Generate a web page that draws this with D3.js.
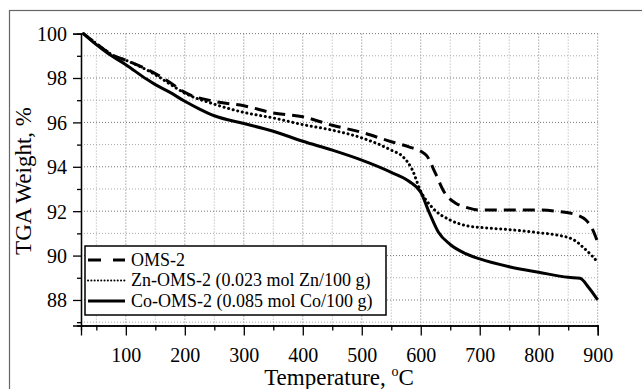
<!DOCTYPE html>
<html>
<head>
<meta charset="utf-8">
<script src="https://cdn.jsdelivr.net/npm/d3@7"></script>
<style>
  body { margin: 0; background: #fff; }
  svg { display: block; }
  text { font-family: "Liberation Serif", "DejaVu Serif", "Times New Roman", Times, serif; fill: #000; }
</style>
</head>
<body>
<div id="chart"></div>
<script>
// TGA curves: [temperature °C, weight %]
const omsTemp = [28, 50, 80, 100, 135, 150, 175, 200, 250, 300, 350, 400, 450, 500, 550, 580, 600, 610, 625, 640, 660, 680, 700, 750, 800, 835, 865, 880, 890, 900];
const omsWeight = [100, 99.55, 99.0, 98.8, 98.4, 98.2, 97.8, 97.35, 96.95, 96.75, 96.42, 96.25, 95.87, 95.55, 95.13, 94.9, 94.7, 94.5, 93.7, 92.85, 92.35, 92.15, 92.05, 92.05, 92.05, 91.98, 91.83, 91.6, 91.25, 90.6];

const znTemp = [28, 50, 80, 100, 135, 150, 175, 200, 250, 300, 350, 400, 450, 500, 550, 570, 585, 600, 620, 650, 680, 700, 750, 800, 830, 860, 877, 890, 900];
const znWeight = [100, 99.55, 99.0, 98.8, 98.37, 98.15, 97.72, 97.32, 96.82, 96.45, 96.2, 95.9, 95.65, 95.3, 94.75, 94.45, 93.9, 92.9, 92.15, 91.6, 91.33, 91.27, 91.17, 91.03, 90.93, 90.7, 90.33, 90.0, 89.7];

const coTemp = [28, 50, 70, 100, 135, 150, 175, 200, 225, 250, 300, 350, 400, 450, 500, 550, 580, 600, 615, 630, 650, 675, 700, 750, 800, 850, 870, 885, 900];
const coWeight = [100, 99.5, 99.1, 98.6, 97.95, 97.7, 97.35, 96.95, 96.6, 96.3, 95.95, 95.6, 95.15, 94.75, 94.3, 93.75, 93.35, 92.85, 91.9, 91.05, 90.5, 90.1, 89.85, 89.5, 89.25, 89.02, 88.98, 88.55, 88.0];

const seriesNames = ["OMS-2", "Zn-OMS-2 (0.023 mol Zn/100 g)", "Co-OMS-2 (0.085 mol Co/100 g)"];
const xTickLabels = [100, 200, 300, 400, 500, 600, 700, 800, 900];
const yTickLabels = [88, 90, 92, 94, 96, 98, 100];

const width = 642, height = 389;
const serif = "'Liberation Serif', 'DejaVu Serif', 'Times New Roman', Times, serif";

const svg = d3.select("#chart").append("svg")
    .attr("width", width)
    .attr("height", height);

// outer frame of the figure
svg.append("rect")
    .attr("x", 9.5).attr("y", 10.5)
    .attr("width", width).attr("height", height)
    .attr("fill", "none")
    .attr("stroke", "#666")
    .attr("stroke-width", 1.2);

const x = d3.scaleLinear().domain([24, 900]).range([81, 597.7]);
const y = d3.scaleLinear().domain([86.85, 100]).range([325.5, 33.6]);

// dotted grid, every 50 °C and every 1 %
const xGrid = d3.range(50, 901, 50);
const yGrid = d3.range(87, 100.5, 1);

svg.append("g").selectAll("line")
    .data(xGrid)
    .enter().append("line")
    .attr("x1", d => x(d)).attr("x2", d => x(d))
    .attr("y1", y(100)).attr("y2", y(86.85))
    .attr("stroke", d => d % 100 === 0 ? "#777" : "#aaa")
    .attr("stroke-width", 1)
    .attr("stroke-dasharray", "1,2");

svg.append("g").selectAll("line")
    .data(yGrid)
    .enter().append("line")
    .attr("x1", x(24)).attr("x2", x(900))
    .attr("y1", d => y(d)).attr("y2", d => y(d))
    .attr("stroke", d => d % 2 === 0 ? "#777" : "#aaa")
    .attr("stroke-width", 1)
    .attr("stroke-dasharray", "1,2");

// axes
const xAxis = svg.append("g")
    .attr("transform", `translate(0, ${y(86.85)})`)
    .call(d3.axisBottom(x).tickValues(xTickLabels).tickSize(10).tickPadding(8).tickFormat(d3.format("d")));
svg.append("g")
    .attr("transform", `translate(0, ${y(86.85)})`)
    .call(d3.axisBottom(x).tickValues(d3.range(50, 901, 100)).tickSize(5).tickFormat(""));

const yAxis = svg.append("g")
    .attr("transform", `translate(${x(24)}, 0)`)
    .call(d3.axisLeft(y).tickValues(yTickLabels).tickSize(8).tickPadding(6).tickFormat(d3.format("d")));
svg.append("g")
    .attr("transform", `translate(${x(24)}, 0)`)
    .call(d3.axisLeft(y).tickValues(d3.range(87, 100, 2)).tickSize(4).tickFormat(""));

svg.selectAll("g").attr("font-family", serif);
svg.selectAll(".domain").attr("stroke", "#000").attr("stroke-width", 1.3);
svg.selectAll(".tick line").attr("stroke", "#000").attr("stroke-width", 1.3);
svg.selectAll(".tick text")
    .style("font-family", serif)
    .style("font-size", "20px");
xAxis.selectAll(".tick text").attr("dy", "0.9em");
yAxis.selectAll(".tick text").attr("dy", "0.35em");

// axis titles
const xTitle = svg.append("text")
    .attr("x", 339)
    .attr("y", 385)
    .attr("text-anchor", "middle")
    .style("font-family", serif)
    .style("font-size", "23px");
xTitle.append("tspan").text("Temperature, ");
xTitle.append("tspan").attr("dy", -9).style("font-size", "14px").text("o");
xTitle.append("tspan").attr("dy", 9).text("C");

svg.append("text")
    .attr("transform", "translate(31, 181) rotate(-90)")
    .attr("text-anchor", "middle")
    .style("font-family", serif)
    .style("font-size", "23px")
    .text("TGA Weight, %");

// curves
const styles = [
    {dash: "12,7", width: 3, cap: "butt"},
    {dash: "0.1,4.6", width: 3, cap: "round"},
    {dash: null, width: 3, cap: "butt"}
];
const series = [
    d3.zip(omsTemp, omsWeight),
    d3.zip(znTemp, znWeight),
    d3.zip(coTemp, coWeight)
];

const line = d3.line()
    .x(d => x(d[0]))
    .y(d => y(d[1]))
    .curve(d3.curveMonotoneX);

svg.append("g").selectAll("path")
    .data(series)
    .enter().append("path")
    .attr("d", line)
    .attr("fill", "none")
    .attr("stroke", "#000")
    .attr("stroke-width", (d, i) => styles[i].width)
    .attr("stroke-linecap", (d, i) => styles[i].cap)
    .attr("stroke-dasharray", (d, i) => styles[i].dash);

// legend
const legend = svg.append("g").attr("transform", "translate(85, 246)");
legend.append("rect")
    .attr("width", 301).attr("height", 69)
    .attr("fill", "#fff")
    .attr("stroke", "#000")
    .attr("stroke-width", 1.5);

const items = legend.selectAll(".legend-item")
    .data(seriesNames)
    .enter().append("g")
    .attr("class", "legend-item")
    .attr("transform", (d, i) => `translate(0, ${14 + i * 20.5})`);

items.append("line")
    .attr("x1", 3).attr("x2", 40)
    .attr("stroke", "#000")
    .attr("stroke-width", (d, i) => i === 1 ? 2 : 3)
    .attr("stroke-linecap", (d, i) => i === 1 ? "round" : "butt")
    .attr("stroke-dasharray", (d, i) => i === 0 ? "13,12" : (i === 1 ? "0.1,3.2" : null));

items.append("text")
    .attr("x", 46)
    .attr("dy", "0.33em")
    .style("font-family", serif)
    .style("font-size", "18px")
    .text(d => d);
</script>
</body>
</html>
